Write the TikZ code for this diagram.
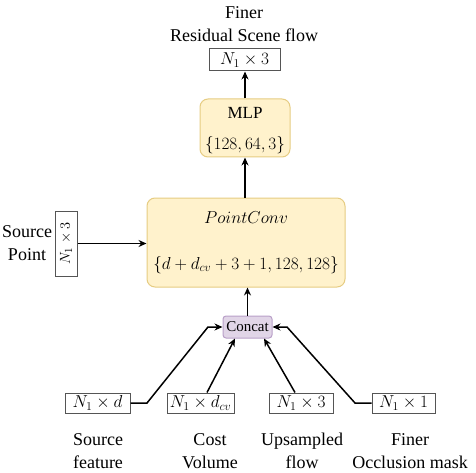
\documentclass[tikz,border=0pt]{standalone}
\usepackage{fontspec}
\setmainfont{Liberation Serif}
\usetikzlibrary{arrows.meta,calc}
\definecolor{yfill}{HTML}{FFF2CC}
\definecolor{ydraw}{HTML}{E6CC82}
\definecolor{pfill}{HTML}{E1D5E7}
\definecolor{pdraw}{HTML}{B9A0C8}
\definecolor{gdraw}{HTML}{555555}
\begin{document}
\begin{tikzpicture}[x=1pt,y=-1pt,
  dimbox/.style={draw=gdraw,line width=1pt,fill=white,inner sep=0pt,
    font=\fontsize{16.5}{19}\selectfont},
  layer/.style={draw=ydraw,fill=yfill,line width=1pt,rounded corners=8pt,inner sep=0pt},
  lbl/.style={align=center,inner sep=0pt,font=\fontsize{18}{22.5}\selectfont},
  conn/.style={line width=1.5pt,-{Stealth[length=8pt,width=7pt]}}
]
\useasboundingbox (0,0) rectangle (476,473);
% output
\node[lbl] (title) at (244,24) {Finer\\Residual Scene flow};
\node[dimbox,minimum width=71pt,minimum height=22pt] (out) at (244.5,60) {$N_1\times 3$};
% MLP
\node[layer,minimum width=90pt,minimum height=58pt] (mlp) at (245,128) {};
\node[inner sep=0pt,font=\fontsize{17}{20}\selectfont] (mlpt) at (245,113) {MLP};
\node[inner sep=0pt,font=\fontsize{17}{20}\selectfont] (mlpn) at (245,145) {$\{128,64,3\}$};
% PointConv
\node[layer,minimum width=198pt,minimum height=89pt] (pc) at (246,242.5) {};
\node[inner sep=0pt,font=\fontsize{17}{20}\selectfont] (pct) at (246,218) {$PointConv$};
\node[inner sep=0pt,font=\fontsize{17}{20}\selectfont] (pcn) at (246,265) {$\{d+d_{cv}+3+1,128,128\}$};
% source point
\node[draw=gdraw,line width=1pt,fill=white,inner sep=0pt,minimum width=65pt,minimum height=22pt,rotate=90,
  font=\fontsize{15}{18}\selectfont] (sp) at (66,243.5) {$N_1\times 3$};
\node[lbl] (spl) at (27,243) {Source\\Point};
% concat
\node[draw=pdraw,fill=pfill,line width=1pt,rounded corners=3pt,inner sep=0pt,minimum width=49pt,minimum height=22pt,
  font=\fontsize{15}{18}\selectfont] (cc) at (247.5,327) {Concat};
% inputs
\node[dimbox,minimum width=65pt,minimum height=20pt] (b1) at (97.5,403) {$N_1\times d$};
\node[dimbox,minimum width=67pt,minimum height=20pt] (b2) at (200.5,403) {$N_1\times d_{cv}$};
\node[dimbox,minimum width=64pt,minimum height=20pt] (b3) at (301,403) {$N_1\times 3$};
\node[dimbox,minimum width=63pt,minimum height=20pt] (b4) at (403.5,403) {$N_1\times 1$};
\node[lbl] (l1) at (98,451) {Source\\feature};
\node[lbl] (l2) at (210,451) {Cost\\Volume};
\node[lbl] (l3) at (302,451) {Upsampled\\flow};
\node[lbl] (l4) at (410,451) {Finer\\Occlusion mask};
% connectors
\coordinate (k1) at (147,403);
\coordinate (k2) at (208,327);
\coordinate (k3) at (355,403);
\coordinate (k4) at (287,327);
\draw[conn] (b1.east) -- (k1) -- (k2) -- (cc.west);
\draw[conn] (b4.west) -- (k3) -- (k4) -- (cc.east);
\draw[conn] (b2.north -| 207,0) -- ($(cc.south)+(-12.5,0)$);
\draw[conn] (b3.north -| 295,0) -- ($(cc.south)+(16.5,0)$);
\draw[conn] (cc.north) -- (cc.north |- pc.south);
\draw[conn] (sp.south) -- (sp.south -| pc.west);
\draw[conn] (pc.north -| mlp.south) -- (mlp.south);
\draw[conn] (mlp.north) -- (mlp.north |- out.south);
\end{tikzpicture}
\end{document}
